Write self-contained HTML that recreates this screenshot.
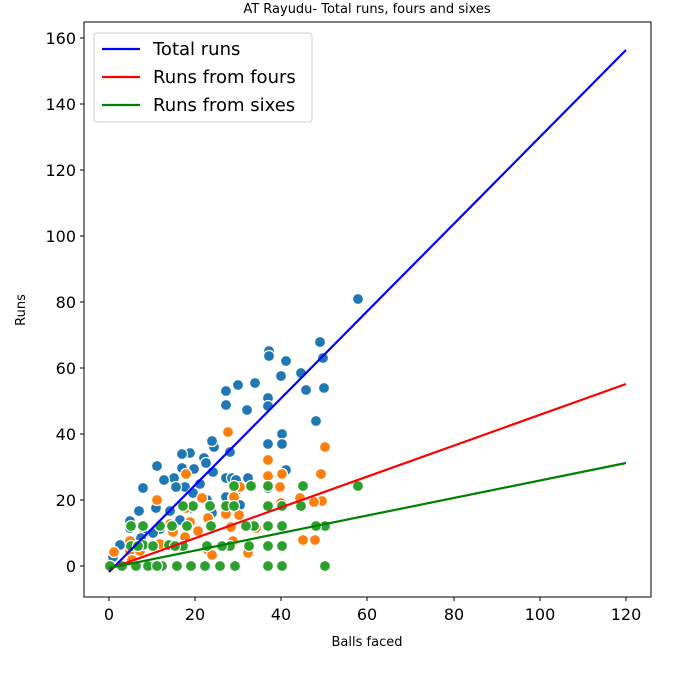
<!DOCTYPE html>
<html><head><style>body{margin:0;background:#fff}svg{display:block;font-family:"DejaVu Sans","Liberation Sans",sans-serif}</style></head>
<body>
<svg width="676" height="676" viewBox="0 0 676 676">
<rect width="676" height="676" fill="#fff"/>
<text x="367" y="13" font-size="13" text-anchor="middle">AT Rayudu- Total runs, fours and sixes</text>
<g stroke="#fff" stroke-width="1.2">
<g fill="#1f77b4">
<circle cx="358" cy="299" r="5.5"/><circle cx="320" cy="342" r="5.5"/><circle cx="323" cy="358" r="5.5"/><circle cx="269" cy="351" r="5.5"/><circle cx="269" cy="356" r="5.5"/><circle cx="286" cy="361" r="5.5"/><circle cx="301" cy="373" r="5.5"/><circle cx="255" cy="383" r="5.5"/><circle cx="226" cy="391" r="5.5"/><circle cx="238" cy="385" r="5.5"/><circle cx="247" cy="410" r="5.5"/><circle cx="268" cy="398" r="5.5"/><circle cx="281" cy="376" r="5.5"/><circle cx="306" cy="390" r="5.5"/><circle cx="324" cy="388" r="5.5"/><circle cx="268" cy="406" r="5.5"/><circle cx="268" cy="444" r="5.5"/><circle cx="282" cy="434" r="5.5"/><circle cx="282" cy="444" r="5.5"/><circle cx="316" cy="421" r="5.5"/><circle cx="214" cy="447" r="5.5"/><circle cx="212" cy="441" r="5.5"/><circle cx="190" cy="453" r="5.5"/><circle cx="182" cy="454" r="5.5"/><circle cx="204" cy="458" r="5.5"/><circle cx="206" cy="463" r="5.5"/><circle cx="182" cy="468" r="5.5"/><circle cx="194" cy="469" r="5.5"/><circle cx="157" cy="466" r="5.5"/><circle cx="185" cy="487" r="5.5"/><circle cx="193" cy="493" r="5.5"/><circle cx="174" cy="478" r="5.5"/><circle cx="164" cy="480" r="5.5"/><circle cx="176" cy="487" r="5.5"/><circle cx="226" cy="405" r="5.5"/><circle cx="226" cy="478" r="5.5"/><circle cx="232" cy="478" r="5.5"/><circle cx="226" cy="497" r="5.5"/><circle cx="230" cy="452" r="5.5"/><circle cx="234" cy="505" r="5.5"/><circle cx="213" cy="472" r="5.5"/><circle cx="200" cy="484" r="5.5"/><circle cx="190" cy="508" r="5.5"/><circle cx="180" cy="520" r="5.5"/><circle cx="170" cy="511" r="5.5"/><circle cx="156" cy="508" r="5.5"/><circle cx="143" cy="488" r="5.5"/><circle cx="139" cy="511" r="5.5"/><circle cx="130" cy="521" r="5.5"/><circle cx="130" cy="528" r="5.5"/><circle cx="144" cy="533" r="5.5"/><circle cx="141" cy="538" r="5.5"/><circle cx="160" cy="529" r="5.5"/><circle cx="172" cy="528" r="5.5"/><circle cx="153" cy="533" r="5.5"/><circle cx="120" cy="545" r="5.5"/><circle cx="113" cy="557" r="5.5"/><circle cx="207" cy="500" r="5.5"/><circle cx="212" cy="513" r="5.5"/><circle cx="236" cy="480" r="5.5"/><circle cx="233" cy="498" r="5.5"/><circle cx="240" cy="505" r="5.5"/><circle cx="248" cy="478" r="5.5"/><circle cx="268" cy="488" r="5.5"/><circle cx="286" cy="470" r="5.5"/><circle cx="236" cy="491" r="5.5"/>
</g>
<g fill="#ff7f0e">
<circle cx="114" cy="552" r="5.5"/><circle cx="130" cy="541" r="5.5"/><circle cx="130" cy="551" r="5.5"/><circle cx="157" cy="500" r="5.5"/><circle cx="186" cy="474" r="5.5"/><circle cx="228" cy="432" r="5.5"/><circle cx="268" cy="460" r="5.5"/><circle cx="268" cy="476" r="5.5"/><circle cx="321" cy="474" r="5.5"/><circle cx="325" cy="447" r="5.5"/><circle cx="322" cy="501" r="5.5"/><circle cx="303" cy="540" r="5.5"/><circle cx="315" cy="540" r="5.5"/><circle cx="226" cy="514" r="5.5"/><circle cx="202" cy="498" r="5.5"/><circle cx="198" cy="531" r="5.5"/><circle cx="173" cy="532" r="5.5"/><circle cx="170" cy="524" r="5.5"/><circle cx="208" cy="518" r="5.5"/><circle cx="208" cy="550" r="5.5"/><circle cx="212" cy="555" r="5.5"/><circle cx="240" cy="487" r="5.5"/><circle cx="234" cy="497" r="5.5"/><circle cx="248" cy="553" r="5.5"/><circle cx="256" cy="528" r="5.5"/><circle cx="281" cy="503" r="5.5"/><circle cx="282" cy="474" r="5.5"/><circle cx="190" cy="522" r="5.5"/><circle cx="185" cy="537" r="5.5"/><circle cx="160" cy="544" r="5.5"/><circle cx="140" cy="551" r="5.5"/><circle cx="132" cy="560" r="5.5"/><circle cx="186" cy="508" r="5.5"/><circle cx="239" cy="515" r="5.5"/><circle cx="231" cy="527" r="5.5"/><circle cx="233" cy="541" r="5.5"/><circle cx="280" cy="487" r="5.5"/><circle cx="300" cy="498" r="5.5"/><circle cx="314" cy="502" r="5.5"/>
</g>
<g fill="#2ca02c">
<circle cx="131" cy="526" r="5.5"/><circle cx="143" cy="526" r="5.5"/><circle cx="131" cy="546" r="5.5"/><circle cx="143" cy="545" r="5.5"/><circle cx="169" cy="545" r="5.5"/><circle cx="183" cy="546" r="5.5"/><circle cx="187" cy="526" r="5.5"/><circle cx="193" cy="506" r="5.5"/><circle cx="183" cy="506" r="5.5"/><circle cx="226" cy="506" r="5.5"/><circle cx="234" cy="486" r="5.5"/><circle cx="251" cy="486" r="5.5"/><circle cx="268" cy="486" r="5.5"/><circle cx="303" cy="486" r="5.5"/><circle cx="358" cy="486" r="5.5"/><circle cx="268" cy="506" r="5.5"/><circle cx="268" cy="526" r="5.5"/><circle cx="301" cy="506" r="5.5"/><circle cx="325" cy="526" r="5.5"/><circle cx="316" cy="526" r="5.5"/><circle cx="282" cy="506" r="5.5"/><circle cx="254" cy="526" r="5.5"/><circle cx="234" cy="506" r="5.5"/><circle cx="210" cy="506" r="5.5"/><circle cx="211" cy="526" r="5.5"/><circle cx="230" cy="546" r="5.5"/><circle cx="249" cy="546" r="5.5"/><circle cx="268" cy="546" r="5.5"/><circle cx="282" cy="546" r="5.5"/><circle cx="246" cy="526" r="5.5"/><circle cx="110" cy="566" r="5.5"/><circle cx="122" cy="566" r="5.5"/><circle cx="136" cy="566" r="5.5"/><circle cx="148" cy="566" r="5.5"/><circle cx="162" cy="566" r="5.5"/><circle cx="177" cy="566" r="5.5"/><circle cx="191" cy="566" r="5.5"/><circle cx="205" cy="566" r="5.5"/><circle cx="220" cy="566" r="5.5"/><circle cx="235" cy="566" r="5.5"/><circle cx="268" cy="566" r="5.5"/><circle cx="282" cy="566" r="5.5"/><circle cx="325" cy="566" r="5.5"/><circle cx="175" cy="546" r="5.5"/><circle cx="222" cy="546" r="5.5"/><circle cx="138" cy="546" r="5.5"/><circle cx="153" cy="546" r="5.5"/><circle cx="160" cy="526" r="5.5"/><circle cx="157" cy="566" r="5.5"/><circle cx="172" cy="526" r="5.5"/><circle cx="207" cy="546" r="5.5"/><circle cx="282" cy="526" r="5.5"/>
</g>
</g>
<line x1="109" y1="572" x2="626" y2="50" stroke="#0000ff" stroke-width="2.2"/>
<line x1="109" y1="569" x2="626" y2="384" stroke="#ff0000" stroke-width="2.2"/>
<line x1="109" y1="568" x2="626" y2="463" stroke="#008000" stroke-width="2.2"/>
<rect x="84" y="22" width="567" height="575" fill="none" stroke="#000" stroke-width="1"/>
<g stroke="#000" stroke-width="1">
<line x1="109" y1="597" x2="109" y2="601"/><line x1="195" y1="597" x2="195" y2="601"/><line x1="281" y1="597" x2="281" y2="601"/><line x1="367" y1="597" x2="367" y2="601"/><line x1="454" y1="597" x2="454" y2="601"/><line x1="540" y1="597" x2="540" y2="601"/><line x1="626" y1="597" x2="626" y2="601"/>
<line x1="80" y1="566" x2="84" y2="566"/><line x1="80" y1="500" x2="84" y2="500"/><line x1="80" y1="434" x2="84" y2="434"/><line x1="80" y1="368" x2="84" y2="368"/><line x1="80" y1="302" x2="84" y2="302"/><line x1="80" y1="236" x2="84" y2="236"/><line x1="80" y1="170" x2="84" y2="170"/><line x1="80" y1="104" x2="84" y2="104"/><line x1="80" y1="38" x2="84" y2="38"/>
</g>
<g font-size="16" text-anchor="middle">
<text x="109" y="620">0</text><text x="195" y="620">20</text><text x="281" y="620">40</text><text x="367" y="620">60</text><text x="454" y="620">80</text><text x="540" y="620">100</text><text x="626" y="620">120</text>
</g>
<g font-size="16" text-anchor="end">
<text x="76" y="572">0</text><text x="76" y="506">20</text><text x="76" y="440">40</text><text x="76" y="374">60</text><text x="76" y="308">80</text><text x="76" y="242">100</text><text x="76" y="176">120</text><text x="76" y="110">140</text><text x="76" y="44">160</text>
</g>
<text x="367" y="646" font-size="13" text-anchor="middle">Balls faced</text>
<text x="25" y="310" font-size="13" text-anchor="middle" transform="rotate(-90 25 310)">Runs</text>
<rect x="94" y="33" width="218" height="89" fill="#fff" stroke="#ccc" rx="3"/>
<line x1="102" y1="49" x2="140" y2="49" stroke="#0000ff" stroke-width="2.2"/>
<line x1="102" y1="77" x2="140" y2="77" stroke="#ff0000" stroke-width="2.2"/>
<line x1="102" y1="105" x2="140" y2="105" stroke="#008000" stroke-width="2.2"/>
<g font-size="18"><text x="153" y="55">Total runs</text><text x="153" y="83">Runs from fours</text><text x="153" y="111">Runs from sixes</text></g>
</svg>
</body></html>
